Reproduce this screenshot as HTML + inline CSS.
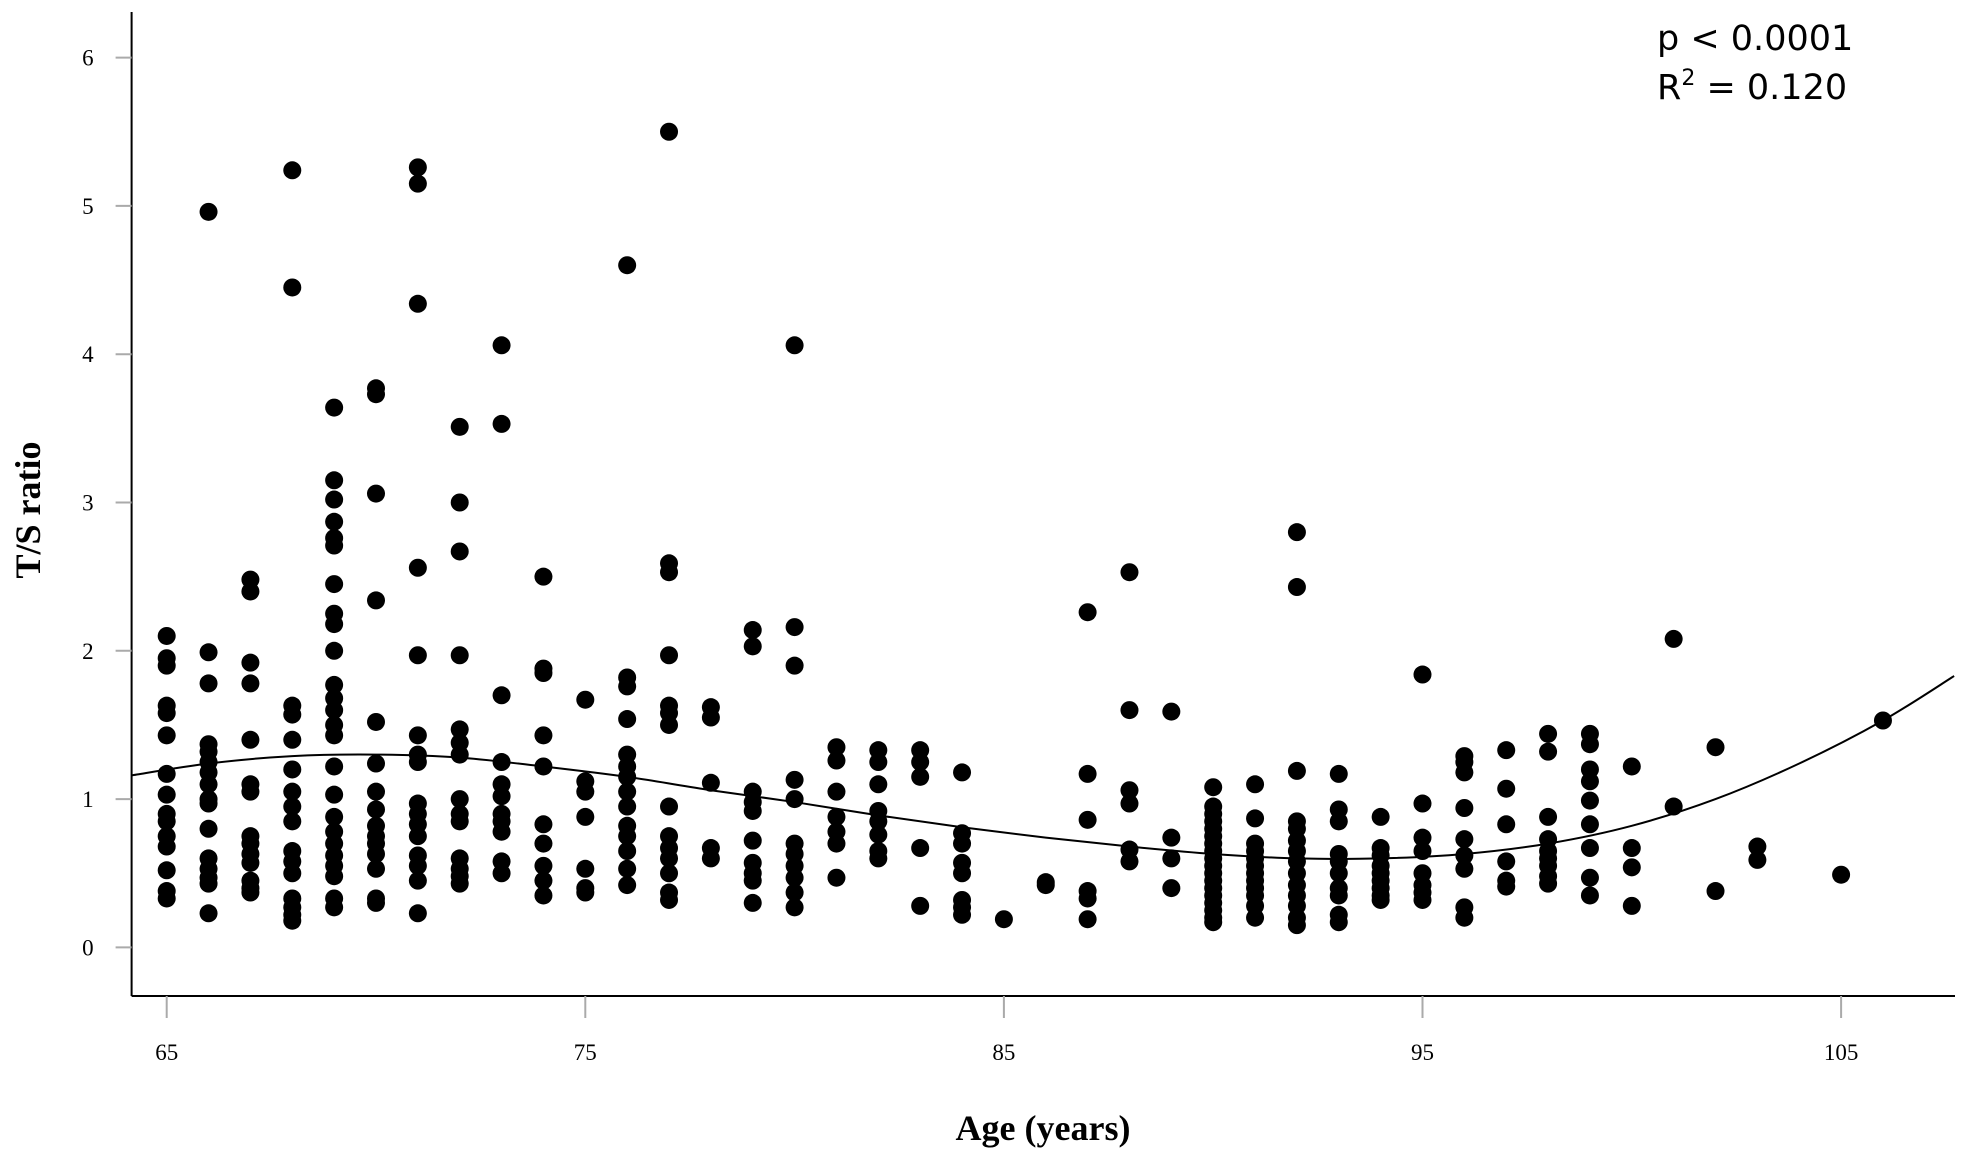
<!DOCTYPE html>
<html><head><meta charset="utf-8"><style>
html,body{margin:0;padding:0;background:#fff;}
svg{display:block;}
.tick{font-family:"Liberation Serif",serif;font-size:23px;fill:#000;}
.title{font-family:"Liberation Serif",serif;font-size:36px;font-weight:bold;fill:#000;}
.ann{font-family:"DejaVu Sans",sans-serif;font-size:35px;fill:#000;}
</style></head><body>
<svg id="chart" width="1965" height="1158" viewBox="0 0 1965 1158" xmlns="http://www.w3.org/2000/svg">
<g id="axes"></g>
<g id="dots"></g>
<path id="fit" fill="none" stroke="#000" stroke-width="2"></path>
<text class="title" x="1043" y="1140" text-anchor="middle">Age (years)</text>
<text class="title" transform="translate(40,510) rotate(-90)" text-anchor="middle">T/S ratio</text>
<text class="ann" x="1657" y="50">p &lt; 0.0001</text>
<text class="ann" x="1657" y="99">R<tspan font-size="22" dy="-14">2</tspan><tspan dy="14"> = 0.120</tspan></text>
</svg>
<script>
const xTicks = [65, 75, 85, 95, 105];
const yTicks = [0, 1, 2, 3, 4, 5, 6];
const ages = [65,66,67,68,69,70,71,72,73,74,75,76,77,78,79,80,81,82,83,84,85,86,87,88,89,90,91,92,93,94,95,96,97,98,99,100,101,102,103,105,106];
const ratios = [
[2.1,1.95,1.9,1.63,1.58,1.43,1.17,1.03,0.9,0.85,0.75,0.68,0.52,0.38,0.33],
[4.96,1.99,1.78,1.37,1.32,1.25,1.18,1.1,1.0,0.97,0.8,0.6,0.53,0.47,0.43,0.23],
[2.48,2.4,1.92,1.78,1.4,1.1,1.05,0.75,0.7,0.63,0.57,0.45,0.4,0.37],
[5.24,4.45,1.63,1.57,1.4,1.2,1.05,0.95,0.85,0.65,0.58,0.5,0.33,0.27,0.22,0.18],
[3.64,3.15,3.02,2.87,2.76,2.71,2.45,2.25,2.18,2.0,1.77,1.68,1.6,1.5,1.43,1.22,1.03,0.88,0.78,0.7,0.62,0.55,0.48,0.33,0.27],
[3.77,3.73,3.06,2.34,1.52,1.24,1.05,0.93,0.82,0.75,0.7,0.63,0.53,0.33,0.3],
[5.26,5.15,4.34,2.56,1.97,1.43,1.3,1.25,0.97,0.9,0.83,0.75,0.62,0.55,0.45,0.23],
[3.51,3.0,2.67,1.97,1.47,1.38,1.3,1.0,0.9,0.85,0.6,0.53,0.48,0.43],
[4.06,3.53,1.7,1.25,1.1,1.02,0.9,0.85,0.78,0.58,0.5],
[2.5,1.88,1.85,1.43,1.22,0.83,0.7,0.55,0.45,0.35],
[1.67,1.12,1.05,0.88,0.53,0.4,0.37],
[4.6,1.82,1.76,1.54,1.3,1.22,1.15,1.05,0.95,0.82,0.75,0.65,0.53,0.42],
[5.5,2.59,2.53,1.97,1.63,1.58,1.5,0.95,0.75,0.67,0.6,0.5,0.37,0.32],
[1.62,1.55,1.11,0.67,0.6],
[2.14,2.03,1.05,0.98,0.92,0.72,0.57,0.5,0.45,0.3],
[4.06,2.16,1.9,1.13,1.0,0.7,0.63,0.55,0.47,0.37,0.27],
[1.35,1.26,1.05,0.88,0.78,0.7,0.47],
[1.33,1.25,1.1,0.92,0.85,0.76,0.65,0.6],
[1.33,1.25,1.15,0.67,0.28],
[1.18,0.77,0.7,0.57,0.5,0.32,0.27,0.22],
[0.19],
[0.44,0.42],
[2.26,1.17,0.86,0.38,0.33,0.19],
[2.53,1.6,1.06,0.97,0.66,0.58],
[1.59,0.74,0.6,0.4],
[1.08,0.95,0.9,0.85,0.8,0.75,0.7,0.65,0.6,0.55,0.5,0.45,0.4,0.35,0.3,0.25,0.2,0.17],
[1.1,0.87,0.7,0.65,0.6,0.55,0.5,0.45,0.4,0.35,0.28,0.2],
[2.8,2.43,1.19,0.85,0.8,0.72,0.65,0.58,0.5,0.42,0.35,0.28,0.2,0.15],
[1.17,0.93,0.85,0.63,0.58,0.5,0.4,0.35,0.22,0.17],
[0.88,0.67,0.62,0.55,0.5,0.45,0.4,0.35,0.32],
[1.84,0.97,0.74,0.65,0.5,0.42,0.37,0.32],
[1.29,1.25,1.18,0.94,0.73,0.62,0.53,0.27,0.2],
[1.33,1.07,0.83,0.58,0.45,0.41],
[1.44,1.32,0.88,0.73,0.65,0.6,0.55,0.48,0.43],
[1.44,1.37,1.2,1.12,0.99,0.83,0.67,0.47,0.35],
[1.22,0.67,0.54,0.28],
[2.08,0.95],
[1.35,0.38],
[0.68,0.59],
[0.49],
[1.53]
];
const fitAges = [64.16,66,68,70,72,74,76,78,80,82,84,86,88,90,92,94,96,98,100,102,104,106,107.7];
const fitVals = [1.16,1.24,1.29,1.3,1.28,1.22,1.15,1.06,0.98,0.89,0.81,0.74,0.68,0.63,0.6,0.6,0.63,0.7,0.82,1.0,1.24,1.53,1.83];

const NS = "http://www.w3.org/2000/svg";
const X0 = 131.6, X1 = 1955, Y0 = 996, YTOP = 12;
function xs(a){ return 166.7 + (a - 65) * 41.86; }
function ys(v){ return 947.4 - v * 148.3; }
function mk(tag, attrs, parent){ const e = document.createElementNS(NS, tag); for (const k in attrs) e.setAttribute(k, attrs[k]); parent.appendChild(e); return e; }

const axes = document.getElementById('axes');
const yl = mk('line', {x1:X0, y1:YTOP, x2:X0, y2:Y0, stroke:'#000', 'stroke-width':2}, axes);


const xl = mk('line', {x1:X0, y1:Y0, x2:X1, y2:Y0, stroke:'#000', 'stroke-width':2}, axes);


xTicks.forEach(t => {
  const l = mk('line', {x1:xs(t), y1:Y0, x2:xs(t), y2:Y0+22, stroke:'#aaa', 'stroke-width':2}, axes);
  
  
  const tx = mk('text', {x:xs(t), y:Y0+64, 'text-anchor':'middle', class:'tick'}, axes);
  
  
  tx.textContent = t;
});
yTicks.forEach(t => {
  const l = mk('line', {x1:X0-16, y1:ys(t), x2:X0, y2:ys(t), stroke:'#aaa', 'stroke-width':2}, axes);
  
  
  const tx = mk('text', {x:X0-38, y:ys(t)+8, 'text-anchor':'end', class:'tick'}, axes);
  
  
  tx.textContent = t;
});
const dots = document.getElementById('dots');
ages.forEach((a, i) => {
  ratios[i].forEach(v => {
    const c = mk('circle', {cx:xs(a), cy:ys(v), r:9, fill:'#000'}, dots);
    
    
  });
});
// smooth curve through fit points (Catmull-Rom)
const pts = fitAges.map((a, i) => [xs(a), ys(fitVals[i])]);
let d = 'M' + pts[0][0] + ',' + pts[0][1];
for (let i = 0; i < pts.length - 1; i++) {
  const p0 = pts[Math.max(i-1,0)], p1 = pts[i], p2 = pts[i+1], p3 = pts[Math.min(i+2, pts.length-1)];
  const c1 = [p1[0] + (p2[0]-p0[0])/6, p1[1] + (p2[1]-p0[1])/6];
  const c2 = [p2[0] - (p3[0]-p1[0])/6, p2[1] - (p3[1]-p1[1])/6];
  d += ' C' + c1[0] + ',' + c1[1] + ' ' + c2[0] + ',' + c2[1] + ' ' + p2[0] + ',' + p2[1];
}
document.getElementById('fit').setAttribute('d', d);
</script>
</body></html>
